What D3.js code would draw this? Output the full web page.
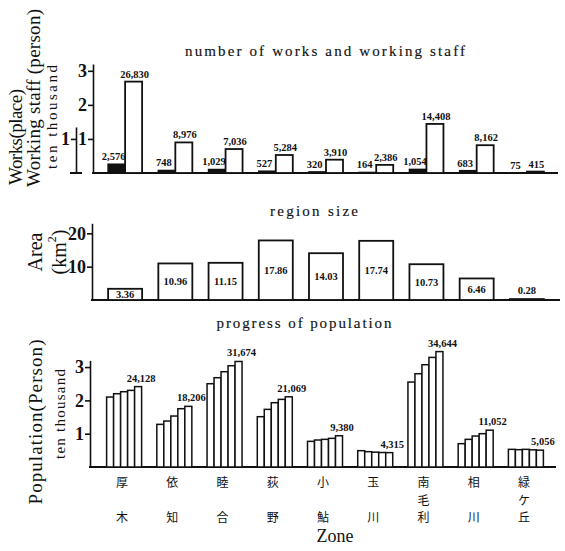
<!DOCTYPE html>
<html>
<head>
<meta charset="utf-8">
<script src="https://cdn.jsdelivr.net/npm/d3@7"></script>
<style>
  body { margin: 0; background: #fff; }
  svg { display: block; }
  text { fill: #111; }
</style>
</head>
<body>
<div id="chart"></div>
<script>
const zones = ['厚木', '依知', '睦合', '荻野', '小鮎', '玉川', '南毛利', '相川', '緑ケ丘']
const works = [2576, 748, 1029, 527, 320, 164, 1054, 683, 75]
const staff = [26830, 8976, 7036, 5284, 3910, 2386, 14408, 8162, 415]
const area = [3.36, 10.96, 11.15, 17.86, 14.03, 17.74, 10.73, 6.46, 0.28]
// five census points per zone, last one is the labelled value
const population = [
    [21000, 22000, 22600, 23000, 24128],
    [12800, 13800, 15300, 17500, 18206],
    [25000, 26800, 28600, 30400, 31674],
    [15100, 17300, 19300, 20300, 21069],
    [7700, 8100, 8300, 8600, 9380],
    [4900, 4600, 4450, 4350, 4315],
    [25500, 28000, 30700, 32900, 34644],
    [7000, 8300, 9300, 10000, 11052],
    [5300, 5200, 5300, 5150, 5056]
]

const width = 565, height = 551
const serif = '"Liberation Serif", "DejaVu Serif", serif'
const cjk = '"Noto Sans CJK JP", sans-serif'
const fmt = d3.format(',')

const svg = d3.select('#chart').append('svg')
    .attr('width', width)
    .attr('height', height)

const x = d3.scaleBand()
    .domain(zones)
    .range([100, 552])

const axisStyle = g => {
    g.select('.domain').attr('stroke', '#111').attr('stroke-width', 1.6)
    g.selectAll('.tick line').attr('stroke', '#111').attr('stroke-width', 1.6)
    g.selectAll('.tick text')
        .attr('font-family', serif)
        .attr('font-weight', 'bold')
        .attr('font-size', 18)
        .attr('dx', 2)
}

const baseline = (y0, x0, x1) => svg.append('line')
    .attr('x1', x0).attr('x2', x1)
    .attr('y1', y0).attr('y2', y0)
    .attr('stroke', '#111').attr('stroke-width', 2)

const title = (txt, cx, cy, len) => svg.append('text')
    .attr('x', cx).attr('y', cy)
    .attr('text-anchor', 'middle')
    .attr('dominant-baseline', 'central')
    .attr('font-family', serif)
    .attr('font-size', 15)
    .attr('stroke', '#111')
    .attr('stroke-width', 0.15)
    .attr('textLength', len)
    .attr('lengthAdjust', 'spacing')
    .text(txt)

const vlabel = (txt, cx, cy, size, len) => {
    const t = svg.append('text')
        .attr('transform', `translate(${cx},${cy}) rotate(-90)`)
        .attr('text-anchor', 'middle')
        .attr('dominant-baseline', 'central')
        .attr('font-family', serif)
        .attr('font-size', size)
        .text(txt)
    if (len) t.attr('textLength', len).attr('lengthAdjust', 'spacing')
    return t
}

const valueText = sel => sel
    .attr('text-anchor', 'middle')
    .attr('font-family', serif)
    .attr('font-weight', 'bold')
    .attr('font-size', 10.5)

// ---- works and working staff ----
const yTop = d3.scaleLinear().domain([0, 32000]).range([173, 64])
const yWorks = d3.scaleLinear().domain([0, 1.35]).range([173, 127])
const bw = 17

title('number of works and working staff', 325, 51, 280)

svg.append('g')
    .attr('transform', 'translate(93,0)')
    .call(d3.axisLeft(yTop).tickValues([10000, 20000, 30000]).tickFormat(d => d / 10000).tickSize(5).tickSizeOuter(0))
    .call(axisStyle)

svg.append('g')
    .attr('transform', 'translate(76,0)')
    .call(d3.axisLeft(yWorks).tickValues([1]).tickFormat(d => d).tickSize(5).tickSizeOuter(0))
    .call(axisStyle)
baseline(173, 70, 82)
baseline(173, 92, 558)

const topG = svg.append('g')
topG.selectAll('.works')
    .data(works)
    .join('rect')
    .attr('x', (d, i) => x(zones[i]) + x.bandwidth() / 2 - bw)
    .attr('y', d => yTop(d))
    .attr('width', bw)
    .attr('height', d => yTop(0) - yTop(d))
    .attr('fill', '#111')
    .attr('stroke', '#111')
    .attr('stroke-width', 1.5)
topG.selectAll('.staff')
    .data(staff)
    .join('rect')
    .attr('x', (d, i) => x(zones[i]) + x.bandwidth() / 2)
    .attr('y', d => yTop(d))
    .attr('width', bw)
    .attr('height', d => yTop(0) - yTop(d))
    .attr('fill', '#fff')
    .attr('stroke', '#111')
    .attr('stroke-width', 1.8)
topG.selectAll('.wlab')
    .data(works)
    .join('text')
    .attr('x', (d, i) => x(zones[i]) + x.bandwidth() / 2 - bw / 2 - 3)
    .attr('y', d => yTop(d) - 4)
    .call(valueText)
    .text(d => fmt(d))
topG.selectAll('.slab')
    .data(staff)
    .join('text')
    .attr('x', (d, i) => x(zones[i]) + x.bandwidth() / 2 + bw / 2 + 1)
    .attr('y', d => yTop(d) - 4)
    .call(valueText)
    .text(d => fmt(d))

vlabel('Works(place)', 15, 137, 19, 96)
vlabel('Working staff (person)', 33, 98, 19, 178)
vlabel('ten thousand', 52, 117, 15, 104)

// ---- region size ----
const yArea = d3.scaleLinear().domain([0, 23]).range([300, 223.3])
const aw = 34

title('region size', 314, 211, 88)

svg.append('g')
    .attr('transform', 'translate(92,0)')
    .call(d3.axisLeft(yArea).tickValues([10, 20]).tickSize(5).tickSizeOuter(0))
    .call(axisStyle)
baseline(300, 91, 560)

const areaG = svg.append('g')
areaG.selectAll('rect')
    .data(area)
    .join('rect')
    .attr('x', (d, i) => x(zones[i]) + x.bandwidth() / 2 - aw / 2)
    .attr('y', d => yArea(d))
    .attr('width', aw)
    .attr('height', d => yArea(0) - yArea(d))
    .attr('fill', '#fff')
    .attr('stroke', '#111')
    .attr('stroke-width', 1.8)
areaG.selectAll('text')
    .data(area)
    .join('text')
    .attr('x', (d, i) => x(zones[i]) + x.bandwidth() / 2)
    .attr('y', d => d < 1 ? yArea(d) - 5 : (yArea(d) + yArea(0)) / 2 + 3.5)
    .call(valueText)
    .text(d => d.toFixed(2))

vlabel('Area', 35, 252, 20)
vlabel('', 59, 252, 20)
    .call(t => {
        t.append('tspan').text('(km')
        t.append('tspan').attr('font-size', 12).attr('dy', -7).text('2')
        t.append('tspan').attr('dy', 7).text(')')
    })

// ---- progress of population ----
const yPop = d3.scaleLinear().domain([0, 32000]).range([467, 360.4])
const inner = d3.scaleBand().domain(d3.range(5)).range([-17.5, 17.5])

title('progress of population', 304, 323, 175)

svg.append('g')
    .attr('transform', 'translate(90,0)')
    .call(d3.axisLeft(yPop).tickValues([10000, 20000, 30000]).tickFormat(d => d / 10000).tickSize(5).tickSizeOuter(0))
    .call(axisStyle)
baseline(467, 89, 556)

const popG = svg.append('g')
    .selectAll('g')
    .data(population)
    .join('g')
    .attr('transform', (d, i) => `translate(${x(zones[i]) + x.bandwidth() / 2 - 1},0)`)
popG.selectAll('rect')
    .data(d => d)
    .join('rect')
    .attr('x', (d, j) => inner(j))
    .attr('y', d => yPop(d))
    .attr('width', inner.bandwidth())
    .attr('height', d => yPop(0) - yPop(d))
    .attr('fill', '#fff')
    .attr('stroke', '#111')
    .attr('stroke-width', 1.5)
popG.append('text')
    .attr('x', d => inner(4) + inner.bandwidth() / 2 + 3)
    .attr('y', d => yPop(d[4]) - 5)
    .call(valueText)
    .text(d => fmt(d[4]))

vlabel('Population(Person)', 35, 422, 19, 165)
vlabel('ten thousand', 60, 414, 15, 90)

// ---- zone names, written vertically ----
svg.append('g')
    .selectAll('text')
    .data(zones)
    .join('text')
    .attr('y', 487)
    .attr('text-anchor', 'middle')
    .attr('font-family', cjk)
    .attr('font-size', 12)
    .each(function (d) {
        const chars = Array.from(d)
        const step = chars.length === 3 ? 17.5 : 35
        const cx = x(d) + x.bandwidth() / 2 - 3
        d3.select(this).selectAll('tspan')
            .data(chars)
            .join('tspan')
            .attr('x', cx)
            .attr('dy', (c, k) => k === 0 ? 0 : step)
            .text(c => c)
    })

svg.append('text')
    .attr('x', 335).attr('y', 536)
    .attr('text-anchor', 'middle')
    .attr('dominant-baseline', 'central')
    .attr('font-family', serif)
    .attr('font-size', 18)
    .text('Zone')
</script>
</body>
</html>
